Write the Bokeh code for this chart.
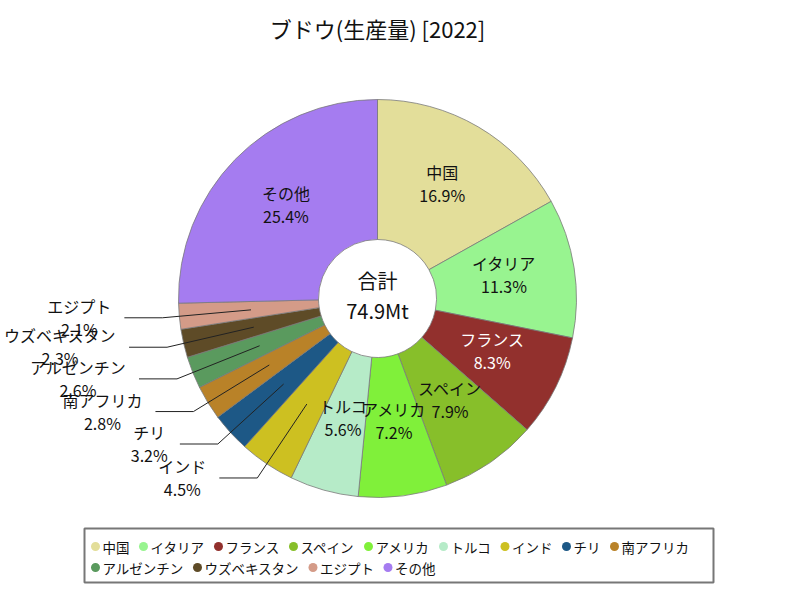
import math
from bokeh.plotting import figure
from bokeh.models import Range1d, ColumnDataSource
from bokeh.embed import file_html
from bokeh.resources import INLINE
from bokeh.core.properties import value

# ---------------- data ----------------
chart_title = "ブドウ(生産量) [2022]"
countries = ["中国", "イタリア", "フランス", "スペイン", "アメリカ", "トルコ", "インド",
             "チリ", "南アフリカ", "アルゼンチン", "ウズベキスタン", "エジプト", "その他"]
shares = [16.9, 11.3, 8.3, 7.9, 7.2, 5.6, 4.5, 3.2, 2.8, 2.6, 2.3, 2.1, 25.4]
colors = ["#e3de9a", "#98f490", "#92302d", "#87bf2a", "#80f03a", "#b6ebc8", "#cdc021",
          "#1d5886", "#b98228", "#5a9a5e", "#5e4b27", "#d49b88", "#a57cf0"]
label_colors = ["#111111", "#111111", "#ffffff", "#111111", "#111111", "#111111", "#111111",
                "#111111", "#111111", "#111111", "#111111", "#111111", "#111111"]
center_title = "合計"
center_total = "74.9Mt"

FONT = "Noto Sans CJK JP"
W, H = 784, 584

def SY(y_page):
    return 600 - y_page

p = figure(width=W, height=H, output_backend="svg", toolbar_location=None,
           x_range=Range1d(0, W), y_range=Range1d(600 - H, 600),
           min_border=0, outline_line_color=None, background_fill_color="white",
           border_fill_color="white")
p.xaxis.visible = False
p.yaxis.visible = False
p.xgrid.visible = False
p.ygrid.visible = False

cx, cy = 377, 298
r_out, r_in = 199, 59
total = sum(shares)

starts, ends, mids = [], [], []
c = 0.0
for s in shares:
    a0 = c / total * 2 * math.pi
    c += s
    a1 = c / total * 2 * math.pi
    starts.append(math.pi / 2 - a0)
    ends.append(math.pi / 2 - a1)
    mids.append((a0 + a1) / 2)

src = ColumnDataSource(dict(start=starts, end=ends, color=colors))
p.annular_wedge(x=cx, y=SY(cy), inner_radius=r_in, outer_radius=r_out,
                start_angle="start", end_angle="end", direction="clock",
                fill_color="color", line_color="#7a7a7a", line_width=0.8, source=src)

# ---------- labels ----------
pcts = [f"{s:.1f}%" for s in shares]
in_x, in_yn, in_yp, in_name, in_pct, in_col = [], [], [], [], [], []
out_x, out_yn, out_yp, out_name, out_pct = [], [], [], [], []
lx, ly = [], []
for i, s in enumerate(shares):
    th = mids[i]
    if s >= 5:
        r = 128
        ax = cx + r * math.sin(th)
        ay = cy - r * math.cos(th)
        in_x.append(ax)
        in_yn.append(SY(ay - 16))
        in_yp.append(SY(ay + 7))
        in_name.append(countries[i])
        in_pct.append(pcts[i])
        in_col.append(label_colors[i])
    else:
        x0 = cx + 127 * math.sin(th)
        y0 = cy - 127 * math.cos(th)
        x1 = cx + 216 * math.sin(th)
        y1 = cy - 216 * math.cos(th)
        x2 = x1 - 38
        lx.append([x0, x1, x2])
        ly.append([SY(y0), SY(y1), SY(y1)])
        wname = 16 * len(countries[i])
        wpct = 8.8 * len(pcts[i])
        w = max(wname, wpct)
        tx = x2 - 13 - w / 2
        out_x.append(tx)
        out_yn.append(SY(y1 - 12))
        out_yp.append(SY(y1 + 11))
        out_name.append(countries[i])
        out_pct.append(pcts[i])

p.multi_line(xs=lx, ys=ly, line_color="#222222", line_width=1)

isrc = ColumnDataSource(dict(x=in_x, yn=in_yn, yp=in_yp, name=in_name, pct=in_pct, col=in_col))
p.text(x="x", y="yn", text="name", text_color="col", source=isrc, text_align="center",
       text_baseline="middle", text_font=value(FONT), text_font_size="16px")
p.text(x="x", y="yp", text="pct", text_color="col", source=isrc, text_align="center",
       text_baseline="middle", text_font=value(FONT), text_font_size="16px")

osrc = ColumnDataSource(dict(x=out_x, yn=out_yn, yp=out_yp, name=out_name, pct=out_pct))
p.text(x="x", y="yn", text="name", text_color="#111111", source=osrc, text_align="center",
       text_baseline="middle", text_font=value(FONT), text_font_size="16px")
p.text(x="x", y="yp", text="pct", text_color="#111111", source=osrc, text_align="center",
       text_baseline="middle", text_font=value(FONT), text_font_size="16px")

# center text
p.text(x=[cx], y=[SY(280)], text=[center_title], text_align="center", text_baseline="middle",
       text_font=value(FONT), text_font_size="20px", text_color="#111111")
p.text(x=[cx], y=[SY(310)], text=[center_total], text_align="center", text_baseline="middle",
       text_font=value(FONT), text_font_size="20px", text_color="#111111")

# title
p.text(x=[377], y=[SY(27)], text=[chart_title], text_align="center", text_baseline="middle",
       text_font=value(FONT), text_font_size="22px", text_color="#111111")

# ---------- legend ----------
p.quad(left=84, right=713, top=SY(528), bottom=SY(582), fill_color="white",
       line_color="#777777", line_width=2)
lg_cx, lg_cy, lg_tx, lg_ty, lg_col, lg_txt = [], [], [], [], [], []
x = 95
row_y = [546, 567]
row = 0
for i, name in enumerate(countries):
    text_w = 13.5 * len(name)
    if x + 8 + text_w > 708:
        row += 1
        x = 95
    lg_cx.append(x)
    lg_cy.append(SY(row_y[row]))
    lg_tx.append(x + 7)
    lg_ty.append(SY(row_y[row]))
    lg_col.append(colors[i])
    lg_txt.append(name)
    x += 21 + text_w

p.scatter(x=lg_cx, y=lg_cy, marker="circle", size=9, fill_color=lg_col, line_color=None)
p.text(x=lg_tx, y=lg_ty, text=lg_txt, text_align="left", text_baseline="middle",
       text_font=value(FONT), text_font_size="13.5px", text_color="#111111")

open("out.html", "w").write(file_html(p, INLINE))
